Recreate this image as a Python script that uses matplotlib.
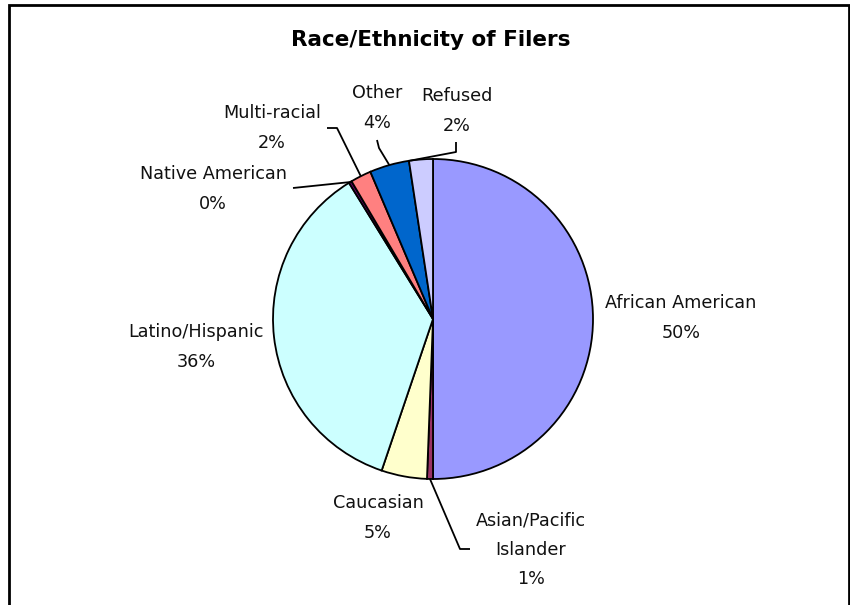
import matplotlib
matplotlib.use("Agg")
import matplotlib.pyplot as plt
import numpy as np
from matplotlib.patches import Rectangle

categories = ["African American", "Asian/Pacific\nIslander", "Caucasian", "Latino/Hispanic",
              "Native American", "Multi-racial", "Other", "Refused"]
values = [50.0, 0.6, 4.6, 36.0, 0.3, 2.1, 4.0, 2.4]
pct_labels = ["50%", "1%", "5%", "36%", "0%", "2%", "4%", "2%"]
colors = ["#9999FF", "#993366", "#FFFFCC", "#CCFFFF", "#660066", "#FF8080", "#0066CC", "#CCCCFF"]

W, H = 850, 605
CX, CY, R = 433, 319, 160  # pixel layout of the pie

fig = plt.figure(figsize=(W / 100, H / 100), dpi=100)
ax = fig.add_axes([0, 0, 1, 1])
ax.axis("off")

def px(x, y):
    return ((x - CX) / R, (CY - y) / R)

wedges, _ = ax.pie(values, colors=colors, startangle=90, counterclock=False,
                   radius=1.0, center=(0, 0),
                   wedgeprops=dict(edgecolor="black", linewidth=1.3))
ax.set_xlim(-CX / R, (W - CX) / R)
ax.set_ylim(-(H - CY) / R, CY / R)
ax.set_aspect("equal")

# frame
fig.patches.append(Rectangle((9 / W, -0.05), (849 - 9) / W, 1.05 - 5 / H, transform=fig.transFigure,
                             fill=False, edgecolor="black", linewidth=2))

fig.text(431 / W, 1 - 40 / H, "Race/Ethnicity of Filers", ha="center", va="center",
         fontsize=15.5, fontweight="bold", family=["DejaVu Sans"])

label_font = ["DejaVu Sans"]
# label block centres (pixel layout)
label_pos = [(681, 318), (531, 550), (378, 518), (196, 347), (213, 189), (272, 128), (377, 108), (457, 111)]
# leader polylines: label-side points (pixel layout); endpoint on wedge computed from data
leader_pts = {
    1: [(470, 549), (460, 549)],
    4: [(293, 188)],
    5: [(327, 128), (337, 128)],
    6: [(377, 140), (379, 148)],
    7: [(456, 142), (456, 152)],
}
# where along each wedge's arc the leader touches (0 = smaller angle, 1 = larger angle)
leader_frac = {1: 0.5, 4: 0.5, 5: 0.5, 6: 0.5, 7: 0.95}

for i, (w, cat, pct) in enumerate(zip(wedges, categories, pct_labels)):
    x, y = label_pos[i]
    tx, ty = px(x, y)
    ax.text(tx, ty, f"{cat}\n{pct}", ha="center", va="center", multialignment="center",
            fontsize=12.7, family=label_font, linespacing=1.8, color="#111111")
    if i in leader_pts:
        a0, a1 = sorted((w.theta1, w.theta2))
        ang = np.deg2rad(a0 + leader_frac[i] * (a1 - a0))
        end = (np.cos(ang), np.sin(ang))
        pts = [px(*p) for p in leader_pts[i]] + [end]
        xs, ys = zip(*pts)
        ax.plot(xs, ys, color="black", linewidth=1.3, solid_capstyle="butt")

fig.savefig("out.png", dpi=100, facecolor="white")
